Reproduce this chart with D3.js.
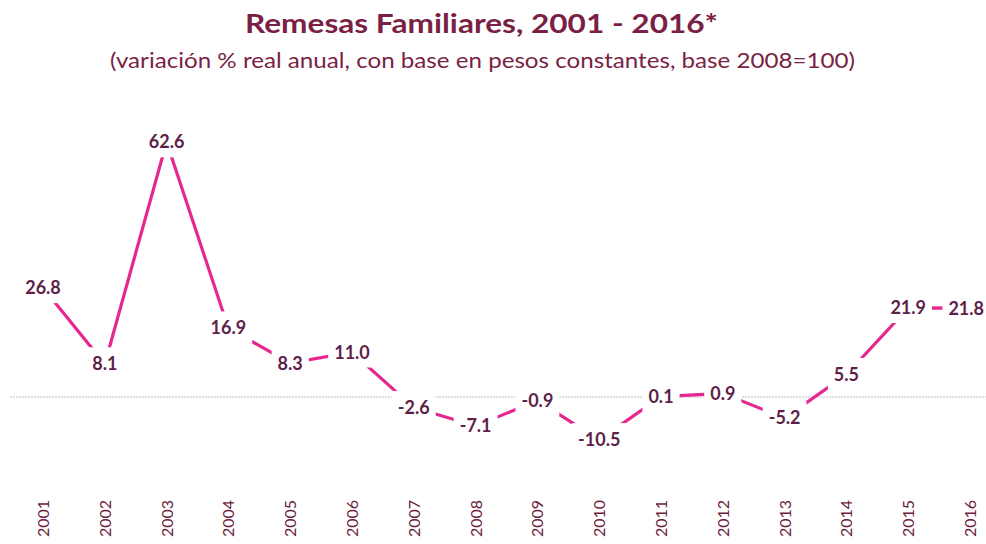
<!DOCTYPE html>
<html>
<head>
<meta charset="utf-8">
<script src="https://cdn.jsdelivr.net/npm/d3@7"></script>
<style>
  body { margin: 0; background: #fff; }
  text { font-family: Lato, "Open Sans", sans-serif; }
</style>
</head>
<body>
<div id="chart"></div>
<script>
var years = ["2001", "2002", "2003", "2004", "2005", "2006", "2007", "2008",
             "2009", "2010", "2011", "2012", "2013", "2014", "2015", "2016"];
var remesas = [26.8, 8.1, 62.6, 16.9, 8.3, 11.0, -2.6, -7.1,
               -0.9, -10.5, 0.1, 0.9, -5.2, 5.5, 21.9, 21.8];

var WIDTH = 986, HEIGHT = 544;

var svg = d3.select("#chart").append("svg")
    .attr("width", WIDTH)
    .attr("height", HEIGHT);

var x = d3.scalePoint()
    .domain(years)
    .range([43, 970]);

var y = d3.scaleLinear()
    .domain([0, 62.6])
    .range([397, 142]);

// titulo
svg.append("text")
    .attr("x", 245).attr("y", 33)
    .attr("textLength", 473)
    .attr("lengthAdjust", "spacingAndGlyphs")
    .style("font-size", "27px")
    .style("font-weight", "bold")
    .style("fill", "#7a1f45")
    .text("Remesas Familiares, 2001 - 2016*");

svg.append("text")
    .attr("x", 110).attr("y", 68)
    .attr("textLength", 745)
    .attr("lengthAdjust", "spacingAndGlyphs")
    .style("font-size", "21px")
    .style("fill", "#7a1f45")
    .text("(variación % real anual, con base en pesos constantes, base 2008=100)");

// linea de cero
svg.append("line")
    .attr("x1", 10).attr("x2", WIDTH)
    .attr("y1", y(0)).attr("y2", y(0))
    .attr("stroke", "#bdbdbd")
    .attr("stroke-width", 1)
    .attr("stroke-dasharray", "2,1");

var line = d3.line()
    .x(function (d, i) { return x(years[i]); })
    .y(function (d) { return y(d); });

svg.append("path")
    .datum(remesas)
    .attr("d", line)
    .attr("fill", "none")
    .attr("stroke", "#e4288f")
    .attr("stroke-width", 3.2);

// etiquetas (con fondo blanco que tapa la linea)
var labels = svg.append("g").attr("class", "labels");

var g = labels.selectAll("g")
    .data(remesas)
    .enter().append("g")
    .attr("transform", function (d, i) {
        return "translate(" + x(years[i]) + "," + y(d) + ")";
    });

var txt = g.append("text")
    .attr("text-anchor", "middle")
    .attr("dy", "0.35em")
    .style("font-size", "18px")
    .style("font-weight", "bold")
    .style("fill", "#5e1f49")
    .text(function (d) { return d.toFixed(1); });

txt.each(function () {
    var b = this.getBBox();
    // no dejar que la etiqueta se salga por la derecha
    var ctm = this.parentNode.getCTM();
    var over = ctm.e + b.x + b.width - (WIDTH - 2);
    if (over > 0) {
        d3.select(this).attr("x", -over);
        b = this.getBBox();
    }
    d3.select(this.parentNode).insert("rect", "text")
        .attr("x", b.x - 6).attr("y", b.y - 5)
        .attr("width", b.width + 12).attr("height", b.height + 10)
        .attr("fill", "#fff");
});

// eje x
svg.append("g").selectAll("text")
    .data(years)
    .enter().append("text")
    .attr("transform", function (d) {
        return "translate(" + (x(d) + 6) + ",537)rotate(-90)";
    })
    .attr("text-anchor", "start")
    .style("font-size", "16px")
    .style("fill", "#6b1d40")
    .text(function (d) { return d; });
</script>
</body>
</html>
